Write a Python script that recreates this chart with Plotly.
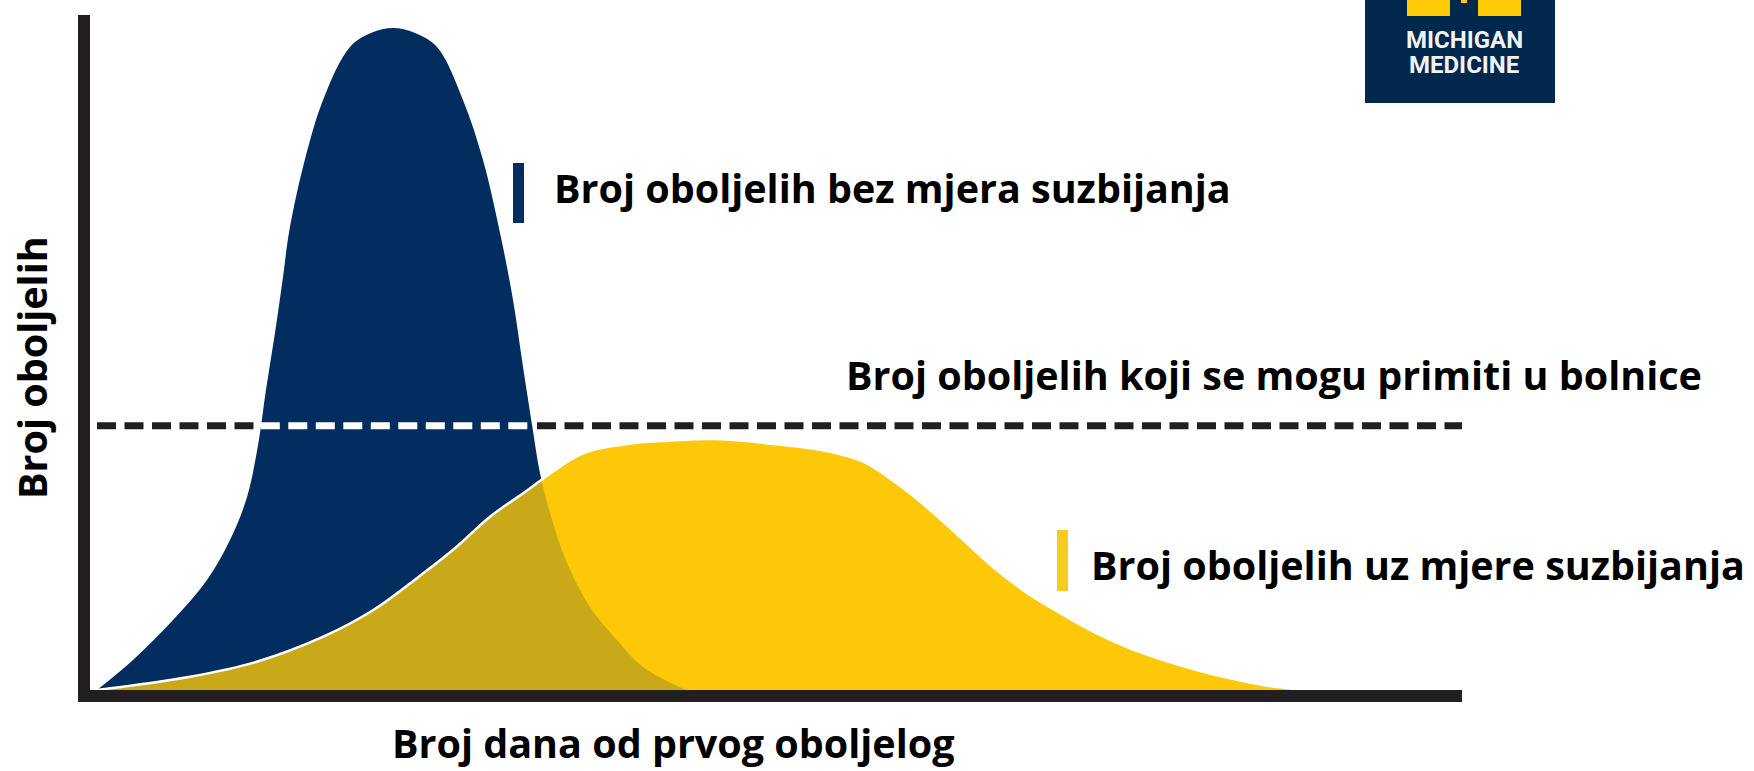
import numpy as np
import plotly.graph_objects as go

# ---- data (x = days, y = cases, arbitrary units) ----
days_no_measures = [0, 3.27, 6.91, 10.0, 12.09, 13.64, 14.64, 15.36, 16.18, 16.91, 17.45, 18.73,
                    20.55, 23.0, 24.95, 26.91, 28.86, 30.91, 33.27, 35.09, 36.64, 37.82, 38.73,
                    39.55, 40.27, 41.18, 42.73, 44.82, 47.27, 49.64, 53.55]
cases_no_measures = [0, 4.54, 10.6, 16.65, 22.71, 29.22, 37.09, 45.42, 54.05, 62.53, 69.19, 79.18,
                     89.33, 97.35, 99.5, 100.23, 99.5, 97.35, 89.33, 80.24, 69.19, 59.05, 48.9,
                     40.12, 32.85, 26.8, 19.23, 12.57, 7.57, 3.48, 0]

days_with_measures = [0, 8.45, 14.52, 20.57, 25.12, 29.66, 32.7, 35.73, 38.75, 44.18, 48.73,
                      51.82, 56.36, 62.36, 66.64, 69.66, 72.7, 75.73, 78.75, 81.79, 84.82, 87.85,
                      90.88, 93.91, 96.94, 99.97, 103.0, 106.0, 109.8]
cases_with_measures = [0, 2.01, 4.28, 8.07, 12.11, 17.67, 21.7, 26.24, 29.78, 35.84, 37.35,
                       37.74, 38.0, 37.09, 36.08, 34.56, 31.29, 27.25, 22.71, 18.17, 14.38, 11.36,
                       8.58, 6.31, 4.54, 3.03, 1.77, 0.76, 0]

hospital_capacity = 40.0
capacity_days = [0, 124.1]

label_no_measures = "Broj oboljelih bez mjera suzbijanja"
label_capacity = "Broj oboljelih koji se mogu primiti u bolnice"
label_with_measures = "Broj oboljelih uz mjere suzbijanja"
x_title = "Broj dana od prvog oboljelog"
y_title = "Broj oboljelih"
logo_lines = ["MICHIGAN", "MEDICINE"]

NAVY = "#022D5E"
YELLOW = "#FDC808"
AXIS = "#231F20"
FONT = "Open Sans, Noto Sans, sans-serif"

# where the no-measures curve crosses the capacity line
ipk = int(np.argmax(cases_no_measures))
cross_left = float(np.interp(hospital_capacity, cases_no_measures[:ipk + 1], days_no_measures[:ipk + 1]))
cross_right = float(np.interp(hospital_capacity, cases_no_measures[ipk:][::-1], days_no_measures[ipk:][::-1]))

DASH = "19px,8.5px"
SPL = dict(shape="spline", smoothing=1.0)
fig = go.Figure()
fig.add_trace(go.Scatter(x=capacity_days, y=[hospital_capacity] * 2, mode="lines",
                         line=dict(color=AXIS, width=7, dash=DASH)))
fig.add_trace(go.Scatter(x=days_with_measures, y=cases_with_measures, mode="lines",
                         fill="tozeroy", fillcolor=YELLOW,
                         line=dict(color=YELLOW, width=0, **SPL)))
fig.add_trace(go.Scatter(x=days_no_measures, y=cases_no_measures, mode="lines",
                         fill="tozeroy", fillcolor=NAVY,
                         line=dict(color=NAVY, width=0, **SPL)))
fig.add_trace(go.Scatter(x=days_with_measures, y=cases_with_measures, mode="lines",
                         fill="tozeroy", fillcolor="rgba(253,200,8,0.80)",
                         line=dict(color="white", width=2.5, **SPL)))
fig.add_trace(go.Scatter(x=[cross_left, cross_right], y=[hospital_capacity] * 2, mode="lines",
                         line=dict(color="white", width=7, dash=DASH)))

W, H = 1754, 771
L, R, T, B = 90, 292, 15, 81
pw, ph = W - L - R, H - T - B


def px(x):
    return (x - L) / pw


def py(y):
    return (H - B - y) / ph


fig.update_layout(
    width=W, height=H,
    margin=dict(l=L, r=R, t=T, b=B, pad=0),
    paper_bgcolor="white", plot_bgcolor="white",
    showlegend=False, hovermode=False,
    xaxis=dict(range=[-0.636, 124.09], showgrid=False, zeroline=False, showticklabels=False,
               ticks="", showline=True, linewidth=12, linecolor=AXIS),
    yaxis=dict(range=[0, 102.2], showgrid=False, zeroline=False, showticklabels=False,
               ticks="", showline=True, linewidth=12, linecolor=AXIS),
)

tfont = dict(family=FONT, size=39.5, color="black", weight="bold")
fig.add_annotation(text=label_no_measures, xref="paper", yref="paper", x=px(552), y=py(187.5),
                   xanchor="left", yanchor="middle", showarrow=False, font=tfont)
fig.add_annotation(text=label_capacity, xref="paper", yref="paper", x=px(844), y=py(374.5),
                   xanchor="left", yanchor="middle", showarrow=False, font=tfont)
fig.add_annotation(text=label_with_measures, xref="paper", yref="paper", x=px(1089), y=py(564.5),
                   xanchor="left", yanchor="middle", showarrow=False, font=tfont)
fig.add_annotation(text=y_title, xref="paper", yref="paper", x=px(32), y=py(368),
                   xanchor="center", yanchor="middle", showarrow=False, textangle=-90, font=tfont)
fig.add_annotation(text=x_title, xref="paper", yref="paper", x=px(673), y=py(743),
                   xanchor="center", yanchor="middle", showarrow=False, font=tfont)

# legend-like bars
fig.add_shape(type="rect", xref="paper", yref="paper", x0=px(513), x1=px(524), y0=py(223), y1=py(163),
              fillcolor=NAVY, line_width=0)
fig.add_shape(type="rect", xref="paper", yref="paper", x0=px(1057), x1=px(1068), y0=py(591), y1=py(530),
              fillcolor="#F9CB1E", line_width=0)

# logo
fig.add_shape(type="rect", xref="paper", yref="paper", x0=px(1365), x1=px(1555), y0=py(103), y1=py(0),
              fillcolor="#00274C", line_width=0)
for a, b in [(1407, 1450), (1478, 1521)]:
    fig.add_shape(type="rect", xref="paper", yref="paper", x0=px(a), x1=px(b), y0=py(16), y1=py(0),
                  fillcolor="#FFCB05", line_width=0)
fig.add_shape(type="rect", xref="paper", yref="paper", x0=px(1461), x1=px(1467), y0=py(3), y1=py(0),
              fillcolor="#FFCB05", line_width=0)
lfont = dict(family="Roboto, sans-serif", size=24, color="#F2F2F2", weight="bold")
for txt, yy in zip(logo_lines, [40, 65]):
    fig.add_annotation(text=txt, xref="paper", yref="paper", x=px(1464), y=py(yy),
                       xanchor="center", yanchor="middle", showarrow=False, font=lfont)

fig.write_html("out.html", config={"displayModeBar": False},
               post_script="document.body.style.margin='0';")
